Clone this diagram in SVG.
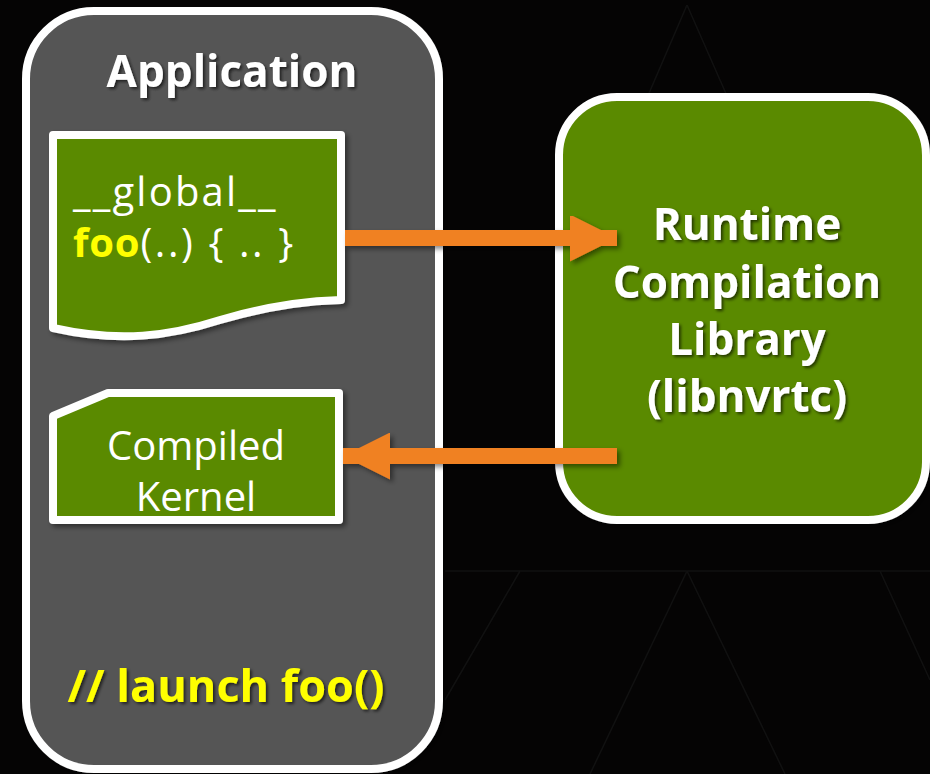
<svg xmlns="http://www.w3.org/2000/svg" width="930" height="774" viewBox="0 0 930 774">
  <defs>
    <filter id="tshadow" x="-10%" y="-20%" width="130%" height="150%">
      <feDropShadow dx="2" dy="2" stdDeviation="1.5" flood-color="#000" flood-opacity="0.6"/>
    </filter>
    <filter id="bshadow" x="-10%" y="-10%" width="130%" height="130%">
      <feDropShadow dx="3" dy="3" stdDeviation="2.5" flood-color="#000" flood-opacity="0.45"/>
    </filter>
    <marker id="ahead" viewBox="0 0 47 47" refX="47" refY="23.5" markerWidth="47" markerHeight="47" markerUnits="userSpaceOnUse" orient="auto">
      <path d="M0,0 L47,23.5 L0,47 Z" fill="#f08122"/>
    </marker>
  </defs>
  <style>
    .bg { fill: #050404; }
    .grid { stroke: #111111; stroke-width: 1.5; fill: none; }
    .app { fill: #555555; stroke: #ffffff; stroke-width: 8; }
    .gbox { fill: #5a8a00; stroke: #ffffff; stroke-width: 8; stroke-linejoin: round; }
    .t { font-family: "Open Sans", "Liberation Sans", sans-serif; fill: #ffffff; }
    .b { font-weight: bold; }
    .y { fill: #ffff00; }
    .conn { stroke: #f08122; stroke-width: 16; fill: none; }
  </style>

  <rect class="bg" x="0" y="0" width="930" height="774"/>
  <g id="background-grid">
    <path class="grid" d="M445,571 H930"/>
    <path class="grid" d="M687,5 L560,300"/>
    <path class="grid" d="M687,5 L830,330"/>
    <path class="grid" d="M687,571 L590,774"/>
    <path class="grid" d="M687,571 L785,774"/>
    <path class="grid" d="M520,571 L445,700"/>
    <path class="grid" d="M880,571 L930,680"/>
  </g>

  <g id="application" filter="url(#bshadow)">
    <rect class="app" x="26" y="11" width="413" height="758" rx="68" ry="68"/>
    <text class="t b" x="232" y="87" font-size="44" text-anchor="middle" filter="url(#tshadow)">Application</text>
  </g>

  <g id="source-code">
    <path class="gbox" filter="url(#bshadow)" d="M53,135 H341 V300 C300,301 260,308 220,320 C170,336 120,343 53,328 Z"/>
    <text class="t" x="73" y="206" font-size="40" letter-spacing="2.2">__global__</text>
    <text class="t" x="73" y="257" font-size="40" letter-spacing="2.6"><tspan class="y b" letter-spacing="0.8">foo</tspan>(..) { .. }</text>
  </g>

  <g id="compiled-kernel">
    <path class="gbox" filter="url(#bshadow)" d="M53,416 L108,393 H339 V520 H53 Z"/>
    <text class="t" x="196" y="460" font-size="40" text-anchor="middle">Compiled</text>
    <text class="t" x="196" y="511" font-size="40" text-anchor="middle">Kernel</text>
  </g>

  <g id="launch">
    <text class="t b y" x="226" y="702" font-size="45" text-anchor="middle" filter="url(#tshadow)">// launch foo()</text>
  </g>

  <g id="runtime-library">
    <rect class="gbox" filter="url(#bshadow)" x="559" y="97" width="367" height="423" rx="58" ry="58"/>
    <g class="t b" font-size="44" text-anchor="middle" filter="url(#tshadow)">
      <text x="747" y="240">Runtime</text>
      <text x="747" y="298">Compilation</text>
      <text x="747" y="355">Library</text>
      <text x="747" y="412">(libnvrtc)</text>
    </g>
  </g>

  <g id="connectors" filter="url(#bshadow)">
    <path class="conn" d="M345,238 H617" marker-end="url(#ahead)"/>
    <path class="conn" d="M617,456 H343" marker-end="url(#ahead)"/>
  </g>
</svg>
